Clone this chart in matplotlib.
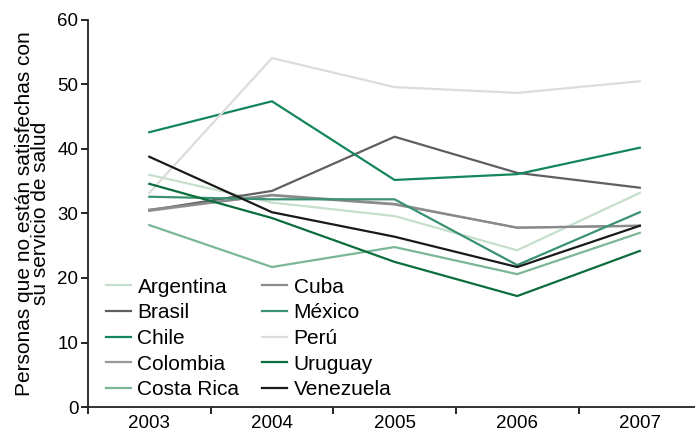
import matplotlib
matplotlib.use("Agg")
import matplotlib.pyplot as plt
import numpy as np

plt.rcParams['font.family'] = ['Liberation Sans', 'DejaVu Sans']

years = ["2003", "2004", "2005", "2006", "2007"]

argentina = [36.0, 31.7, 29.6, 24.3, 33.2]
brasil = [30.5, 33.5, 41.9, 36.3, 34.0]
chile = [42.6, 47.4, 35.2, 36.1, 40.2]
colombia = [30.4, 32.9, 31.5, 27.8, 28.1]
costa_rica = [28.2, 21.7, 24.8, 20.6, 27.0]
cuba = [30.6, 32.8, 31.4, 27.8, 28.1]
mexico = [32.6, 32.2, 32.2, 22.0, 30.2]
peru = [33.2, 54.1, 49.6, 48.7, 50.5]
uruguay = [34.6, 29.3, 22.5, 17.2, 24.2]
venezuela = [38.8, 30.2, 26.4, 21.7, 28.1]

names = ["Argentina", "Brasil", "Chile", "Colombia", "Costa Rica",
         "Cuba", "México", "Perú", "Uruguay", "Venezuela"]
series = [argentina, brasil, chile, colombia, costa_rica,
          cuba, mexico, peru, uruguay, venezuela]
colors = ["#c5dfcc", "#5f5f61", "#13875a", "#98989a", "#7bb796",
          "#8a8a8c", "#3a9270", "#dcdcdc", "#0b6e3a", "#1a1a1a"]

fig = plt.figure(figsize=(6.95, 4.33), dpi=100)
ax = fig.add_axes([88/695, 1 - 407/433, (695 - 88)/695, (407 - 20)/433])

x = np.arange(len(years))
for name, vals, c in zip(names, series, colors):
    ax.plot(x, vals, color=c, lw=1.6, label=name)

ax.set_xlim(-0.5, 4.45)
ax.set_ylim(0, 60)
ax.set_yticks(range(0, 61, 10))
ax.set_xticks(x)
ax.set_xticklabels(years)
ax.set_xticks(np.arange(-0.5, 4.0, 1.0), minor=True)
ax.tick_params(axis='x', which='major', length=0, labelsize=13.5, pad=6)
ax.tick_params(axis='x', which='minor', length=5, width=1.2, direction='out')
ax.tick_params(axis='y', length=5, width=1.2, labelsize=13.5, pad=2)
for s in ['top', 'right']:
    ax.spines[s].set_visible(False)
for s in ['left', 'bottom']:
    ax.spines[s].set_linewidth(1.3)
    ax.spines[s].set_color('#222222')

ax.set_ylabel("Personas que no están satisfechas con\nsu servicio de salud",
              fontsize=15, linespacing=0.8, labelpad=5)

leg = ax.legend(ncol=2, loc='lower left', bbox_to_anchor=(0.03, 0.02),
                frameon=False, fontsize=15, handlelength=1.2,
                handletextpad=0.3, labelspacing=0.32, columnspacing=1.1,
                borderaxespad=0, borderpad=0)

fig.savefig("out.png", dpi=100)
